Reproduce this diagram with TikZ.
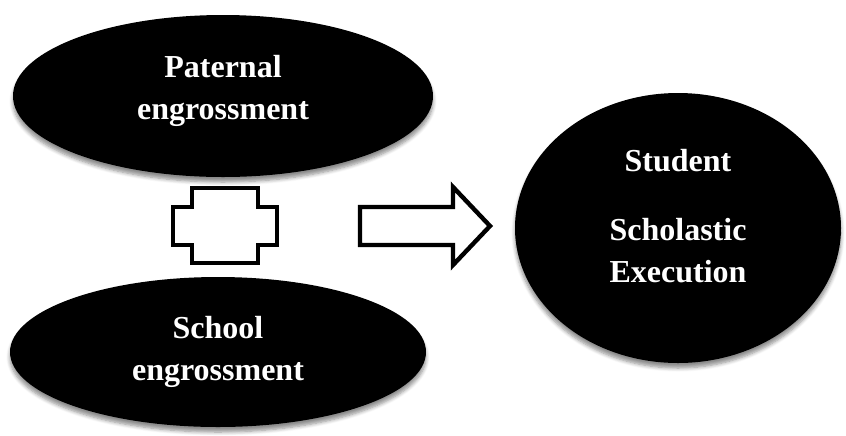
\documentclass[tikz,border=0pt]{standalone}
\usepackage{fontspec}
\setmainfont{Liberation Serif}
\usetikzlibrary{shapes.geometric,shadows.blur,positioning}

\begin{document}
\begin{tikzpicture}[x=0.5pt,y=-0.5pt,
  blob/.style={ellipse,fill=black,text=white,align=center,inner sep=0pt,
    font=\fontsize{16}{21}\selectfont\bfseries,
    blur shadow={shadow xshift=0pt,shadow yshift=-2.5pt,shadow blur steps=6,shadow opacity=45}},
  outline/.style={draw=black,line width=2.2pt,fill=white,line join=miter}]
\useasboundingbox (0,0) rectangle (846,435);
% factors
\node[blob,minimum width=210pt,minimum height=81pt,text depth=8.5pt] (paternal) at (223,96) {Paternal\\engrossment};
\node[blob,minimum width=208pt,minimum height=75pt] (school) at (218,352) {School\\engrossment};
% outcome
\node[blob,minimum width=163pt,minimum height=135pt,text depth=12pt] (student) at (678,228) {Student\\[13.5pt]Scholastic\\Execution};
% interaction symbol
\draw[outline] (192,188)--(258,188)--(258,207)--(277,207)--(277,245)--(258,245)
  --(258,263)--(192,263)--(192,245)--(173,245)--(173,207)--(192,207)--cycle;
% block arrow
\draw[outline] (360,207)--(453,207)--(453,187)--(490,226)--(453,265)--(453,245)--(360,245)--cycle;
\end{tikzpicture}
\end{document}
